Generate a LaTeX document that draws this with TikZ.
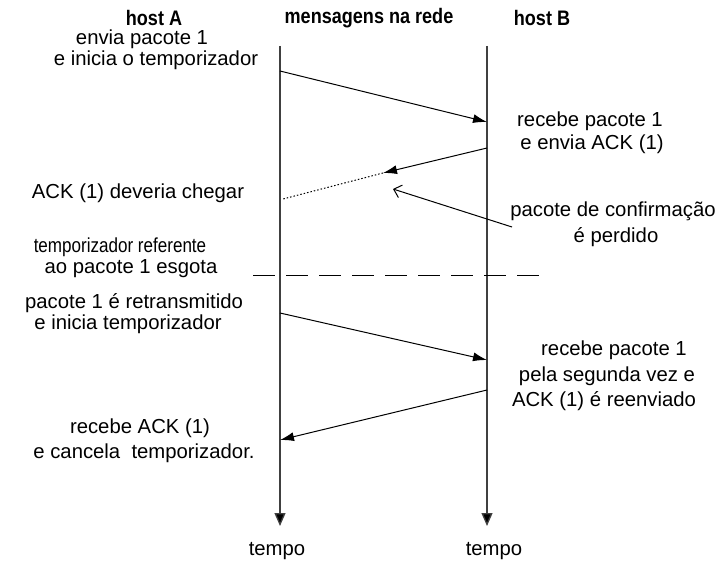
\documentclass[tikz,border=0pt]{standalone}
\usepackage{fontspec}
\setmainfont{Liberation Sans}
\newfontfamily\headfont[FakeStretch=0.86]{Liberation Sans}
\newfontfamily\narrowfont[FakeStretch=0.84]{Liberation Sans}
\usetikzlibrary{arrows.meta}

\begin{document}
\begin{tikzpicture}[x=1pt,y=-1pt,
  lbl/.style={inner sep=0pt, font=\fontsize{20.3}{24}\selectfont},
  narrowlbl/.style={inner sep=0pt, font=\narrowfont\fontsize{20.3}{24}\selectfont},
  head/.style={inner sep=0pt, font=\headfont\bfseries\fontsize{21}{25}\selectfont},
  timeline/.style={draw=black!75, line width=1.3pt, -{Triangle[length=13pt,width=11pt,fill=black]}},
  msg/.style={line width=1pt, -{Latex[length=14pt,width=9pt]}},
  lost/.style={line width=1pt, dash pattern=on 1.5pt off 2pt},
  pointer/.style={line width=1pt, -{Straight Barb[length=7pt,width=13pt]}},
  timeout/.style={line width=1pt, dash pattern=on 22pt off 11pt}
]
\useasboundingbox (0,0) rectangle (720,567);

% column headings
\node[head] (hA)  at (154,18) {host A};
\node[head] (net) at (369,18) {mensagens na rede};
\node[head] (hB)  at (542,18) {host B};

% time axes of both hosts
\coordinate (topA) at (280,46);
\coordinate (botA) at (280,526);
\coordinate (topB) at (487,46);
\coordinate (botB) at (487,526);
\draw[timeline] (topA) -- (botA);
\draw[timeline] (topB) -- (botB);
\node[lbl] (tempoA) at (277,551) {tempo};
\node[lbl] (tempoB) at (494,551) {tempo};

% first transmission of packet 1
\coordinate (p1s) at (280,71);
\coordinate (p1e) at (487,122);
\draw[msg] (p1s) -- (p1e);

% ACK that gets lost on the way
\coordinate (a1s) at (487,148);
\coordinate (a1m) at (383,173);
\coordinate (a1e) at (283,199);
\draw[msg] (a1s) -- (a1m);
\draw[lost] (a1m) -- (a1e);

% note pointing to the lost ACK
\coordinate (ptip) at (393,189);
\coordinate (ptail) at (512,227);
\draw[pointer] (ptail) -- (ptip);

% timeout marker
\coordinate (toL) at (253,275);
\coordinate (toR) at (540,275);
\draw[timeout] (toL) -- (toR);

% retransmission of packet 1
\coordinate (p2s) at (280,313);
\coordinate (p2e) at (487,360);
\draw[msg] (p2s) -- (p2e);

% ACK resent
\coordinate (a2s) at (487,390);
\coordinate (a2e) at (280,440);
\draw[msg] (a2s) -- (a2e);

% event descriptions
\node[lbl] (t1a) at (142,39) {envia pacote 1};
\node[lbl] (t1b) at (156,60) {e inicia o temporizador};
\node[lbl] (t2a) at (590,121) {recebe pacote 1};
\node[lbl] (t2b) at (592,144) {e envia ACK (1)};
\node[lbl] (t3)  at (138,193) {ACK (1) deveria chegar};
\node[lbl] (t4a) at (613,211) {pacote de confirmação};
\node[lbl] (t4b) at (616,237) {é perdido};
\node[narrowlbl] (t5a) at (120,247) {temporizador referente};
\node[lbl] (t5b) at (131,269) {ao pacote 1 esgota};
\node[lbl] (t6a) at (134,303) {pacote 1 é retransmitido};
\node[lbl] (t6b) at (128,324) {e inicia temporizador};
\node[lbl] (t7a) at (614,350) {recebe pacote 1};
\node[lbl] (t7b) at (607,376) {pela segunda vez e};
\node[lbl] (t7c) at (604,401) {ACK (1) é reenviado};
\node[lbl] (t8a) at (140,428) {recebe ACK (1)};
\node[lbl] (t8b) at (144,453) {e cancela\ \ temporizador.};
\end{tikzpicture}
\end{document}
